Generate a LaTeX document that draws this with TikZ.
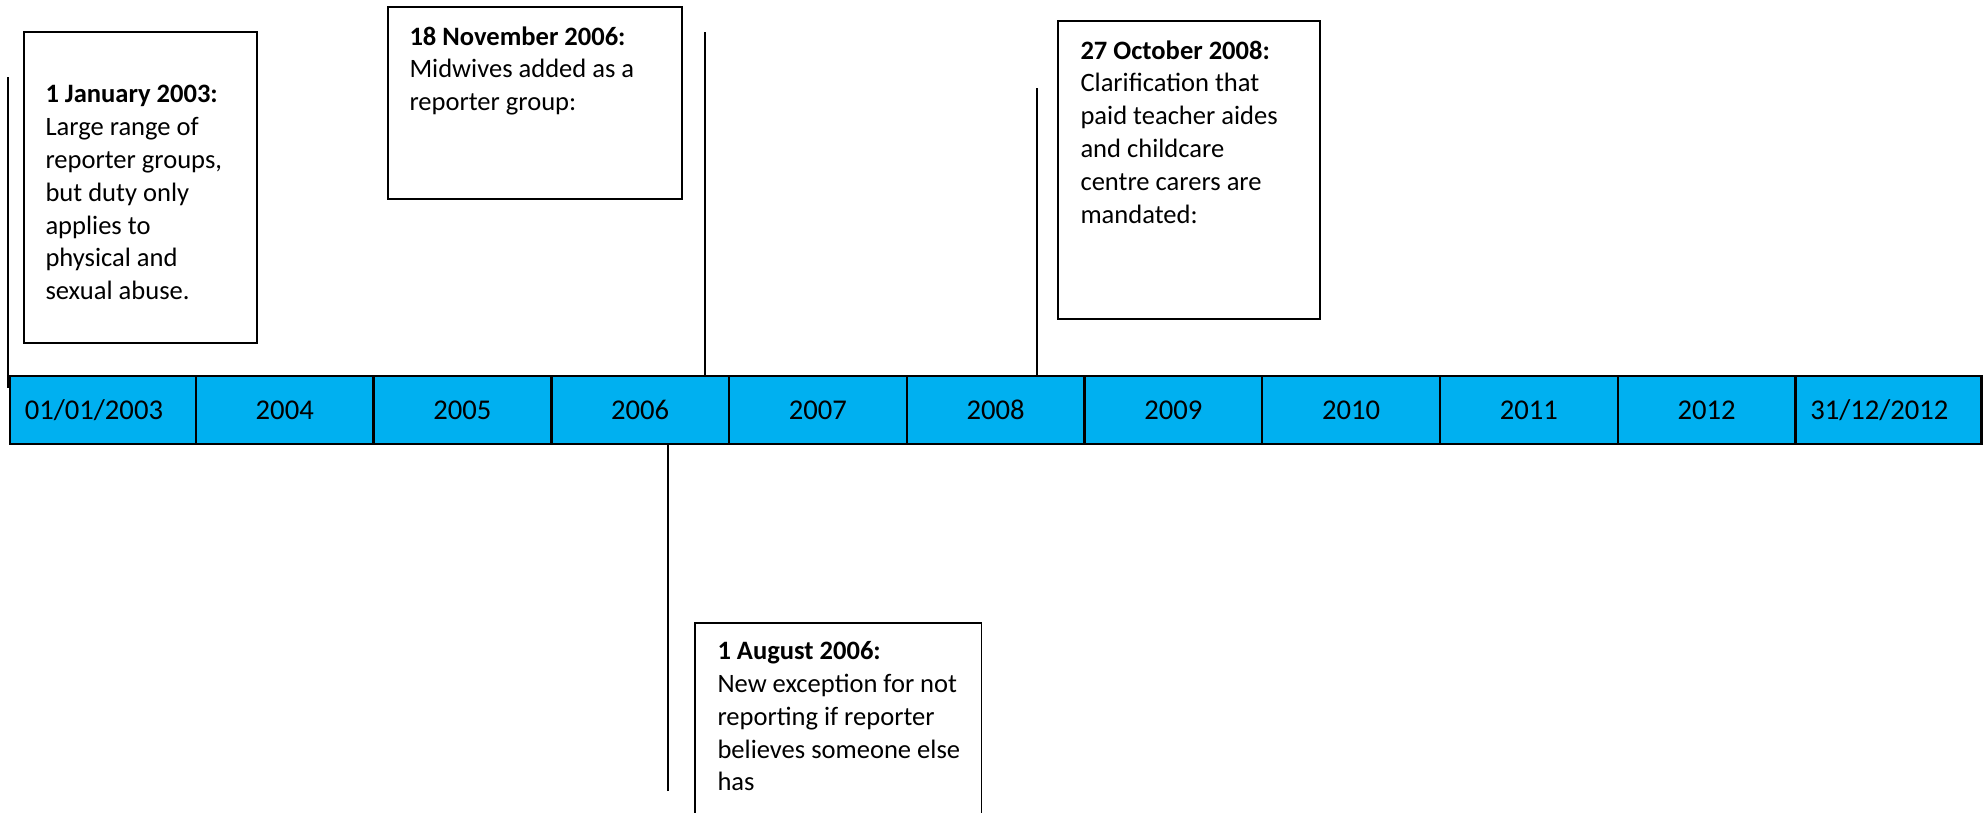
\documentclass[tikz,border=0pt]{standalone}
\usepackage{fontspec}
\setmainfont{Carlito}
\usepackage{xcolor}
\usepackage{tikz}
\usetikzlibrary{positioning}

\definecolor{barblue}{HTML}{00B0F0}

\begin{document}
\begin{tikzpicture}[x=0.0135cm, y=-0.0135cm]
        % Style cho thanh thời gian và các hộp sự kiện
        \tikzstyle{yearcell} = [
            draw=black,
            line width=0.9pt,
            fill=barblue,
            minimum width=2.4cm,
            minimum height=0.918cm,
            outer sep=0pt,
            inner sep=0pt,
            font=\fontsize{11}{13}\selectfont
        ]
        \tikzstyle{endcell} = [
            yearcell,
            minimum width=2.51cm,
            text width=2.11cm,
            inner xsep=0.2cm,
            align=left
        ]
        \tikzstyle{eventbox} = [
            draw=black,
            line width=0.65pt,
            fill=white,
            outer sep=0pt,
            inner sep=0pt,
            anchor=north west
        ]
        \tikzstyle{eventtext} = [
            align=left,
            inner sep=0pt,
            anchor=north west,
            font=\fontsize{10.2}{12.6}\selectfont
        ]
        \tikzstyle{marker} = [black, line width=0.55pt]

        \useasboundingbox (0,0) rectangle (1984,812);

        % Thanh thời gian: các ô liền nhau
        \node[endcell, anchor=north west] (y2003) at (10,376) {01/01/2003};
        \node[yearcell, right=0cm of y2003] (y2004) {2004};
        \node[yearcell, right=0cm of y2004] (y2005) {2005};
        \node[yearcell, right=0cm of y2005] (y2006) {2006};
        \node[yearcell, right=0cm of y2006] (y2007) {2007};
        \node[yearcell, right=0cm of y2007] (y2008) {2008};
        \node[yearcell, right=0cm of y2008] (y2009) {2009};
        \node[yearcell, right=0cm of y2009] (y2010) {2010};
        \node[yearcell, right=0cm of y2010] (y2011) {2011};
        \node[yearcell, right=0cm of y2011] (y2012) {2012};
        \node[endcell, right=0cm of y2012] (yend) {31/12/2012};

        % Hộp sự kiện
        \node[eventbox, minimum width=3.146cm, minimum height=4.20cm] (jan03) at (24,32) {};
        \node[eventtext] (jan03txt) at (45,85) {\textbf{1 January 2003:}\\Large range of\\reporter groups,\\but duty only\\applies to\\physical and\\sexual abuse.};

        \node[eventbox, minimum width=3.97cm, minimum height=2.59cm] (nov06) at (388,7) {};
        \node[eventtext] (nov06txt) at (409,26) {\textbf{18 November 2006:}\\Midwives added as a\\reporter group:};

        \node[eventbox, minimum width=3.54cm, minimum height=4.02cm] (oct08) at (1058,21) {};
        \node[eventtext] (oct08txt) at (1080,40) {\textbf{27 October 2008:}\\Clarification that\\paid teacher aides\\and childcare\\centre carers are\\mandated:};

        \node[eventbox, minimum width=3.87cm, minimum height=2.97cm] (aug06) at (695,623) {};
        \node[eventtext] (aug06txt) at (717,641) {\textbf{1 August 2006:}\\New exception for not\\reporting if reporter\\believes someone else\\has};

        % Đường đánh dấu thời điểm
        \coordinate (jan03mark) at (8,77);
        \coordinate (nov06mark) at (705,32);
        \coordinate (oct08mark) at (1037,88);
        \coordinate (aug06mark) at (668,791);

        \draw[marker] (jan03mark) -- ([yshift=-0.16cm]jan03mark |- y2003.north);
        \draw[marker] (nov06mark) -- (nov06mark |- y2006.north);
        \draw[marker] (oct08mark) -- (oct08mark |- y2008.north);
        \draw[marker] (aug06mark) -- (aug06mark |- y2006.south);

    \end{tikzpicture}
\end{document}
